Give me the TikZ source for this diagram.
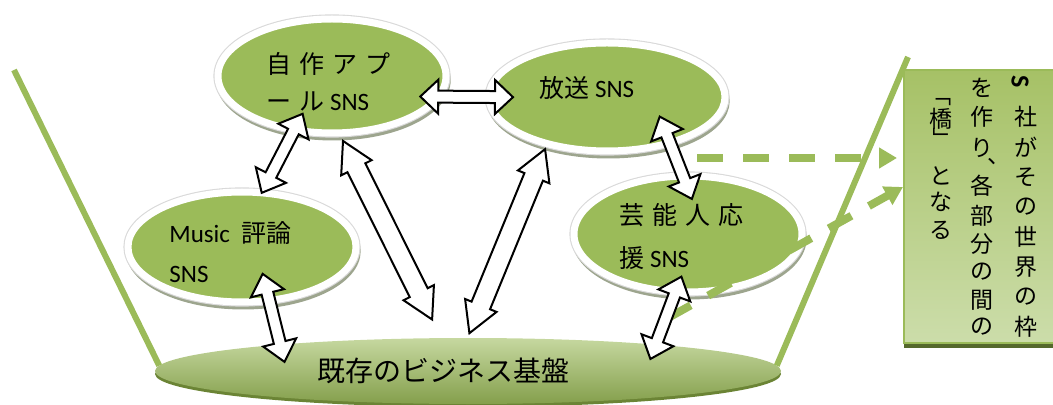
\documentclass[tikz,border=0pt]{standalone}
\usepackage{fontspec}
\setmainfont{Carlito}
\newfontfamily\jp{Noto Sans CJK JP}
\usetikzlibrary{arrows.meta,positioning,calc,shapes.geometric}
\definecolor{olive2}{HTML}{9BBB59}
\definecolor{olivelight}{HTML}{C6D8A0}
\definecolor{olivedark}{HTML}{6B8435}
\definecolor{shadowgray}{HTML}{9DA58E}
\definecolor{boxtop}{HTML}{A6C166}
\definecolor{boxbottom}{HTML}{CCDDAA}
\definecolor{boxshadow}{HTML}{55692C}

\tikzset{
  sns/.style={ellipse, fill=olive2, draw=white, line width=3.5pt, inner sep=0pt, outer sep=0pt,
    preaction={draw=shadowgray, line width=3.5pt, transform canvas={xshift=0.6pt,yshift=-2pt}},
    preaction={draw=black!15, line width=4.6pt}},
  snstext/.style={anchor=west, align=left, inner sep=0pt, font=\fontsize{12.5pt}{20pt}\selectfont},
  basis/.style={ellipse, top color=olivelight, bottom color=olive2!85!black, inner sep=0pt, outer sep=0pt,
    font=\fontsize{14pt}{16pt}\selectfont,
    preaction={fill=olivedark, transform canvas={yshift=-1.5pt}}},
  notebox/.style={rectangle, draw=olive2, line width=0.8pt, top color=boxtop, bottom color=boxbottom,
    inner sep=0pt, outer sep=0pt,
    preaction={fill=boxshadow, transform canvas={yshift=-2.5pt}}},
  vchar/.style={inner sep=0pt, font=\jp\fontsize{11.5pt}{11.5pt}\selectfont},
  blockarrow/.style={draw=black, fill=white, line width=1pt, line join=miter},
  rim/.style={draw=olive2, line width=3pt},
  hint/.style={draw=olive2, line width=4pt, dash pattern=on 13pt off 10pt,
    -{Triangle[length=9pt,width=10pt]}}
}

% white two-headed block arrow between two anchors:
% #3,#4 trim at each end, #5 half shaft width, #6 head length
\newcommand\pairarrow[6]{%
  \path[blockarrow] let \p1=($(#1)!#3!(#2)$), \p2=($(#2)!#4!(#1)$),
    \n1={atan2(\y2-\y1,\x2-\x1)}, \n2={veclen(\x2-\x1,\y2-\y1)} in
    [shift={(\p1)}, rotate=\n1]
    (0pt,0pt) -- (#6,8.5pt) -- (#6,#5) -- ({\n2-#6},#5) -- ({\n2-#6},8.5pt) -- ({\n2+0pt},0pt)
    -- ({\n2-#6},-8.5pt) -- ({\n2-#6},-#5) -- (#6,-#5) -- (#6,-8.5pt) -- cycle;}
\newcommand\jsp{\hspace{4pt}}

\begin{document}
\begin{tikzpicture}[x=0.5pt, y=-0.5pt]
\useasboundingbox (0,0) rectangle (1053,405);
\clip (0,0) rectangle (1053,405);

\coordinate (lefttop) at (14,70);
\coordinate (righttop) at (908,57);
\coordinate (hstart) at (697,158);
\coordinate (dstart) at (668,318);

\node[basis, minimum width=313pt, minimum height=33pt] (base) at (468,371)
  {{\jp 既存のビジネス基盤}\hspace*{25pt}};
\draw[rim] (base.179) -- (lefttop);
\draw[rim] (base.1) -- (righttop);

\node[sns, minimum width=114pt, minimum height=57pt] (app) at (332,76) {};
\node[sns, minimum width=118pt, minimum height=54pt] (broad) at (607,97) {};
\node[sns, minimum width=114pt, minimum height=55pt] (music) at (242,247) {};
\node[sns, minimum width=114pt, minimum height=58pt] (idol) at (688,234) {};

\node[snstext] (appText) at ($(app)+(-66,5.5)$) {{\jp 自\jsp 作\jsp ア\jsp プ}\\[-1.5pt]{\jp ー\jsp ル} SNS};
\node[snstext] (broadText) at ($(broad)+(-68,-9)$) {{\jp 放送} SNS};
\node[snstext] (musicText) at ($(music)+(-73,5)$) {Music\ \ {\jp 評論}\\SNS};
\node[snstext] (idolText) at ($(idol)+(-69,2.5)$) {{\jp 芸\jsp 能\jsp 人\jsp 応}\\[1.5pt]{\jp 援} SNS};

\node[notebox, anchor=north west, minimum width=92pt, minimum height=136.5pt] (bridge) at (904,70) {};
\node[vchar, rotate=-90, font=\rmfamily\bfseries\fontsize{13pt}{13pt}\selectfont] (colA0) at (1020,82) {S};
\foreach \ch [count=\i] in {社,が,そ,の,世,界,の,枠}
  \node[vchar] (colA\i) at (1026,87+30*\i) {\ch};
\foreach \ch/\y [count=\i] in {を/88,作/117,り/148,各/186,部/216,分/244,の/272,間/300,の/327}
  \node[vchar] (colB\i) at (982,\y) {\ch};
\node[vchar] (comma) at (999,162) {、};
\node[vchar, rotate=-90] (colC1) at (941,95) {「};
\node[vchar, rotate=-90] (colC3) at (941,139) {」};
\foreach \ch/\y [count=\i from 4] in {と/176,な/202,る/230}
  \node[vchar] (colC\i) at (941,\y) {\ch};
\node[vchar] (colC2) at (941,119) {橋};

\draw[hint] (hstart) -- ($(bridge.north west)+(-7,88)$);
\draw[hint] (dstart) -- ($(bridge.north west)+(-1,117)$);

\pairarrow{app.-11}{broad.180}{-9pt}{-12pt}{3pt}{9pt}
\pairarrow{app.-125}{music.70}{-9pt}{0pt}{3pt}{10pt}
\pairarrow{app.-83}{base.129}{4.5pt}{10.4pt}{5pt}{15pt}
\pairarrow{broad.-142}{base.91.5}{3pt}{2.5pt}{5pt}{15pt}
\pairarrow{broad.-36}{idol.95}{-14pt}{-12.3pt}{3pt}{10pt}
\pairarrow{music.-63}{base.172.5}{-13.7pt}{-8.9pt}{3pt}{10pt}
\pairarrow{idol.-102.6}{base.8.7}{-8pt}{-7.7pt}{3pt}{10pt}
\end{tikzpicture}
\end{document}
